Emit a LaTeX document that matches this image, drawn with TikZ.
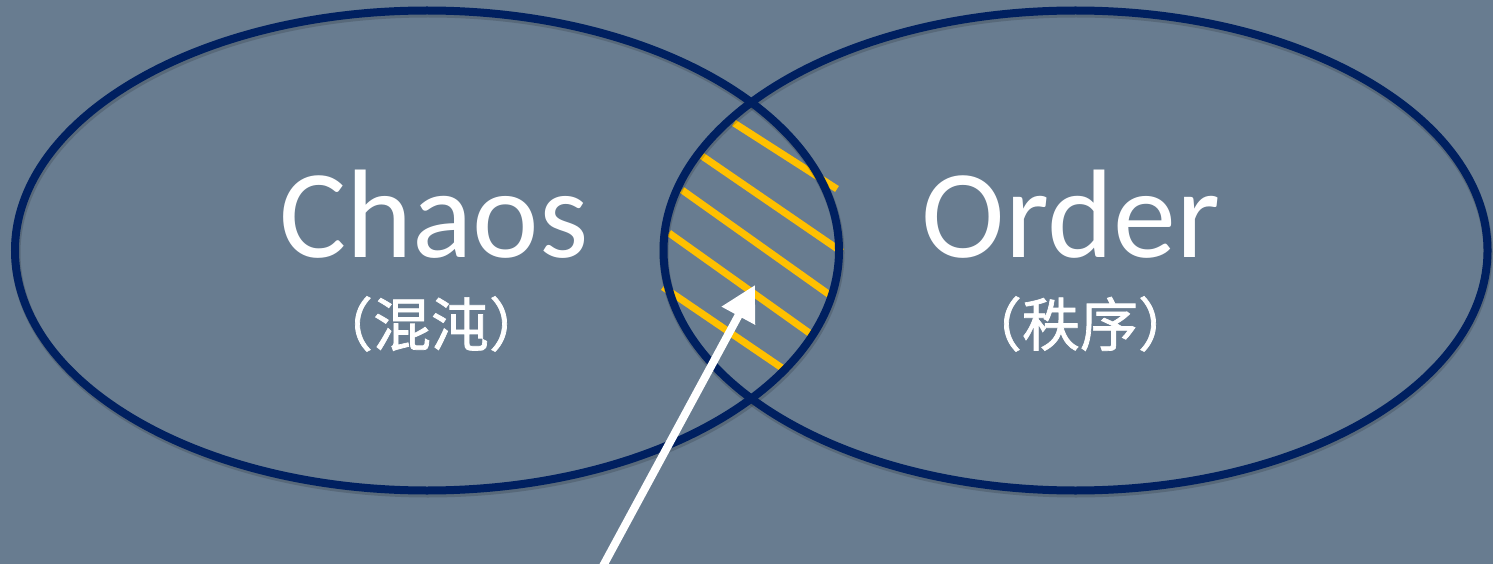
\documentclass[tikz,border=0pt]{standalone}
\usepackage{fontspec}
\setmainfont{Carlito}
\newfontfamily\cjk[FakeBold=1.2]{Noto Sans CJK SC}
\usetikzlibrary{arrows.meta}
\definecolor{bgslate}{HTML}{687C90}
\definecolor{navy}{HTML}{002060}
\definecolor{gold}{HTML}{FFC000}
\tikzset{
  ring/.style={draw=navy, line width=8pt},
  ringshadow/.style={draw=black, opacity=0.15, line width=9pt},
  hatch/.style={draw=gold, line width=7pt},
  bigword/.style={text=white, font=\fontsize{126}{130}\selectfont, inner sep=0pt, anchor=base},
  cjkword/.style={text=white, font=\cjk\fontsize{58}{60}\selectfont, inner sep=0pt, anchor=base},
  pointer/.style={draw=white, line width=8pt, -{Triangle[length=35pt,width=36pt]}}
}
\begin{document}
\begin{tikzpicture}[x=1pt,y=-1pt]
  \fill[bgslate] (0,0) rectangle (1493,564);
  \useasboundingbox (0,0) rectangle (1493,564);
  % hatching in the overlap
  \draw[hatch] (734,123) -- (837,189);
  \draw[hatch] (702,156) -- (842,252);
  \draw[hatch] (682,190) -- (834,298);
  \draw[hatch] (669,233) -- (815,337);
  \draw[hatch] (663,287) -- (785,370);
  % shadows
  \draw[ringshadow] (428,253) ellipse [x radius=412, y radius=240];
  \draw[ringshadow] (1076,253) ellipse [x radius=412, y radius=240];
  % ellipses
  \draw[ring] (427,250.5) ellipse [x radius=412, y radius=240];
  \draw[ring] (1075.5,250.5) ellipse [x radius=412, y radius=240];
  % labels
  \node[bigword] (chaos) at (434,257) {Chaos};
  \node[cjkword] (hundun) at (431,346) {（混沌）};
  \node[bigword] (order) at (1071,257) {Order};
  \node[cjkword] (zhixu) at (1080,346) {（秩序）};
  % arrow
  \coordinate (tail) at (603,566);
  \coordinate (tip) at (755,285);
  \draw[pointer] (tail) -- (tip);
\end{tikzpicture}
\end{document}
